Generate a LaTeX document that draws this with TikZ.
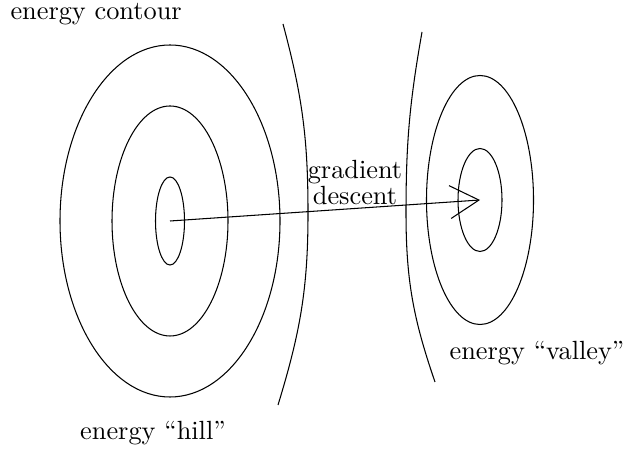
\documentclass[tikz,border=0pt]{standalone}
\usepackage{tikz}
\usetikzlibrary{arrows.meta}
\tikzset{
  >={Straight Barb[length=11pt,width=12.5pt]},
  ctr/.style={thin},
  lbl/.style={inner sep=0pt,font=\normalsize},
  gar/.style={->,thin},
}
\begin{document}
\begin{tikzpicture}[x=0.38pt,y=0.38pt]
    \useasboundingbox (0,0) rectangle (627,450);
    \coordinate (hill) at (170,229);
    \coordinate (valley) at (480,250);
    % hill contours
    \draw[ctr] (hill) ellipse [x radius=110,y radius=176];
    \draw[ctr] (hill) ellipse [x radius=58,y radius=115];
    \draw[ctr] (hill) ellipse [x radius=14.5,y radius=44];
    % valley contours
    \draw[ctr] (valley) ellipse [x radius=53.5,y radius=124.5];
    \draw[ctr] (valley) ellipse [x radius=22,y radius=51.5];
    % the two open contours in between
    \draw[ctr] (283,426) to[out=-75,in=90] (308,237) to[out=-90,in=73] (278,45);
    \draw[ctr] (422,418) to[out=-100,in=90] (406,237) to[out=-90,in=109] (435,68);
    \draw[gar] (hill) -- (valley);
    \node[lbl,anchor=base west] (cont) at (10,430) {energy contour};
    \node[lbl,anchor=base] (hl) at (153,10) {energy ``hill''};
    \node[lbl,anchor=base] (vl) at (537,90) {energy ``valley''};
    \node[lbl,anchor=base,align=center,font={\fontsize{10}{10}\selectfont}] (gd)
      at (355,245) {gradient\\descent};
  \end{tikzpicture}
\end{document}
